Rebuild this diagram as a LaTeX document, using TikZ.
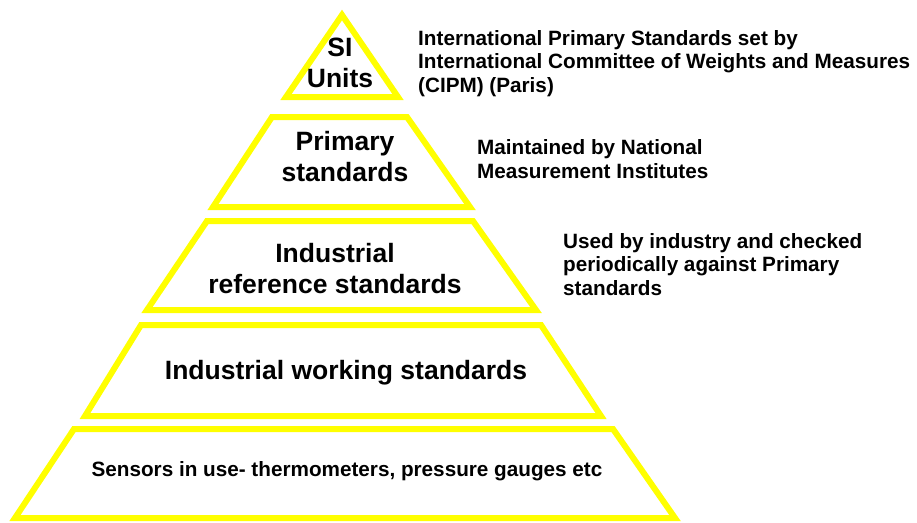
\documentclass[tikz,border=0pt]{standalone}
\usepackage{fontspec}
\setmainfont{Liberation Sans}
\definecolor{pyr}{RGB}{255, 255, 0}
\definecolor{ink}{RGB}{0, 0, 0}

\begin{document}
\begin{tikzpicture}[x=1pt, y=-1pt,
		tier/.style={draw=pyr, line width=6pt},
		lvl/.style={align=center, inner sep=0pt, text=ink, font=\fontsize{26.5}{31}\selectfont\bfseries},
		note/.style={align=left, anchor=west, inner sep=0pt, text=ink, font=\fontsize{20.7}{23.5}\selectfont\bfseries}]
			\useasboundingbox (0,0) rectangle (917,522);

			% Level 1 (SI units)
			\draw[tier] (342,15) -- (398,97) -- (286,97) -- cycle;
			\node[lvl] (si) at (340,63) {SI\\Units};

			% Level 2 (Primary)
			\draw[tier] (272,117) -- (407,117) -- (470,207) -- (213,207) -- cycle;
			\node[lvl] (primary) at (345,157) {Primary\\standards};

			% Level 3 (Industrial reference)
			\draw[tier] (207,221) -- (473,221) -- (536,310) -- (147,310) -- cycle;
			\node[lvl] (indref) at (335,268.5) {Industrial\\reference standards};

			% Level 4 (Industrial working)
			\draw[tier] (141,325) -- (541,325) -- (601,416) -- (85,416) -- cycle;
			\node[lvl, anchor=base] (indwork) at (346,379) {Industrial working standards};

			% Level 5 (Sensors)
			\draw[tier] (74,429) -- (613,429) -- (675,518) -- (15,518) -- cycle;
			\node[lvl, anchor=base, font=\fontsize{20.7}{23.5}\selectfont\bfseries] (sensors) at (347,476) {Sensors in use- thermometers, pressure gauges etc};

			% Notes on the right
			\node[note] (cipm) at (418,63.2) {International Primary Standards set by\\International Committee of Weights and Measures\\(CIPM) (Paris)};
			\node[note] (nmi) at (477,159.3) {Maintained by National\\Measurement Institutes};
			\node[note] (industry) at (563,264.2) {Used by industry and checked\\periodically against Primary\\standards};
		\end{tikzpicture}
\end{document}
